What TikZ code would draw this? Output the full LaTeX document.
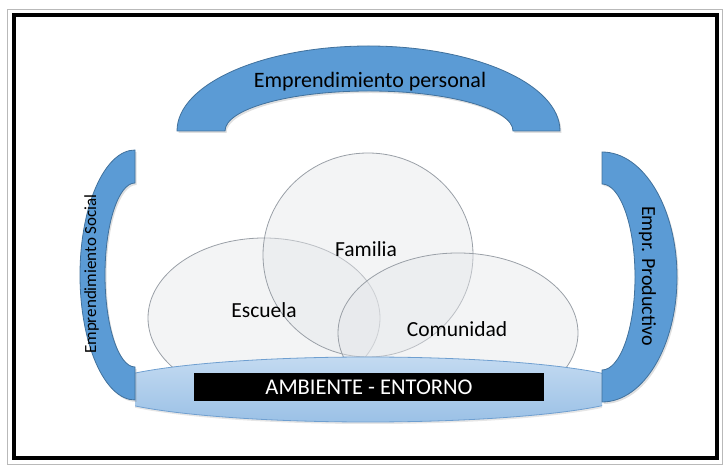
\documentclass[tikz,border=0pt]{standalone}
\usepackage{fontspec}
\setmainfont{Carlito}
\usetikzlibrary{shadows}

\definecolor{arcoazul}{HTML}{5B9BD5}
\definecolor{arcoborde}{HTML}{41719C}
\definecolor{baseclaro}{HTML}{C3DAF1}
\definecolor{baseazul}{HTML}{9BC1E6}
\definecolor{baseborde}{HTML}{6F9FD0}
\definecolor{vidrio}{HTML}{E4E6E9}
\definecolor{vidrioborde}{HTML}{9AA0A7}

\begin{document}
\begin{tikzpicture}[x=1pt, y=1pt,
    arco/.style={fill=arcoazul, draw=arcoborde, line width=0.8pt,
        drop shadow={opacity=0.25, shadow xshift=1.5pt, shadow yshift=-2pt}},
    vidrio/.style={fill=vidrio, fill opacity=0.45, draw=vidrioborde, draw opacity=1, line width=0.8pt},
    etiqueta/.style={font=\fontsize{21.5}{26}\selectfont, anchor=base, inner sep=0pt},
    barra/.style={fill=black, text=white, minimum width=350pt, minimum height=28pt, inner sep=0pt,
        font=\fontsize{22.5}{26}\selectfont}
]
    \useasboundingbox (0,0) rectangle (727,468);
    %
    % marco
    \draw[gray!55, line width=0.8pt] (7,4) rectangle (722,459);
    \draw[black, line width=4pt] (14,10) rectangle (717,452.5);
    %
    % circulos
    \draw[vidrio] (264,150) ellipse [x radius=116, y radius=80];
    \draw[vidrio] (368,213) ellipse [x radius=105, y radius=102];
    \draw[vidrio] (458,135) ellipse [x radius=120, y radius=80];
    %
    % base
    \begin{scope}
        \clip (135,0) rectangle (602,200);
        \draw[top color=baseclaro, bottom color=baseazul, draw=baseborde, line width=0.8pt,
            drop shadow={opacity=0.2, shadow xshift=1pt, shadow yshift=-2pt}]
            (368,78.5) ellipse [x radius=270, y radius=32.5];
    \end{scope}
    %
    % arcos
    \draw[arco] (177,337) arc [start angle=180, end angle=0, x radius=191.5, y radius=85]
        -- (513,337) arc [start angle=0, end angle=180, x radius=144, y radius=40] -- cycle;
    \draw[arco] (135,318) arc [start angle=90, end angle=270, x radius=55, y radius=125]
        -- (135,101) arc [start angle=270, end angle=90, x radius=30, y radius=92] -- cycle;
    \draw[arco] (602,316) arc [start angle=90, end angle=-90, x radius=75, y radius=125]
        -- (602,98) arc [start angle=-90, end angle=90, x radius=33, y radius=93] -- cycle;
    %
    % textos
    \node[etiqueta, font=\fontsize{22}{26}\selectfont] (personal) at (370,380) {Emprendimiento personal};
    \node[etiqueta, font=\fontsize{17}{20}\selectfont, rotate=90] (social) at (96,194) {Emprendimiento Social};
    \node[etiqueta, font=\fontsize{20}{24}\selectfont, rotate=-90] (productivo) at (642,192) {Empr. Productivo};
    \node[etiqueta] (familia) at (366,211) {Familia};
    \node[etiqueta] (escuela) at (264,150) {Escuela};
    \node[etiqueta] (comunidad) at (457,131) {Comunidad};
    \node[barra] (ambiente) at (369,81) {AMBIENTE - ENTORNO};
\end{tikzpicture}
\end{document}
